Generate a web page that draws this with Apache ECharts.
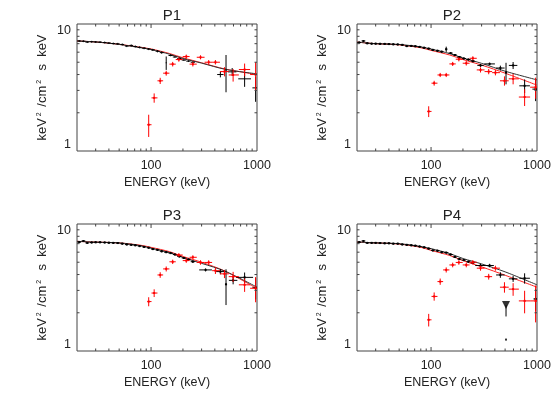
<!DOCTYPE html>
<html>
<head>
<meta charset="utf-8">
<script src="https://cdn.jsdelivr.net/npm/echarts@6/dist/echarts.min.js"></script>
<style>html,body{margin:0;padding:0;background:#fff}#chart{width:560px;height:400px}</style>
</head>
<body>
<div id="chart"></div>
<script>
var panelNames = ['P1', 'P2', 'P3', 'P4'];

// model curves (keV^2/cm^2 s keV)
var modelE = [20, 30, 50, 80, 100, 150, 200, 300, 500, 1000];
var p1ModelBlack = [7.35, 7.22, 6.9, 6.5, 6.3, 5.78, 5.35, 4.92, 4.4, 4.05];
var p1ModelRed = [7.35, 7.22, 6.92, 6.55, 6.36, 5.85, 5.42, 4.95, 4.42, 4.0];
var p2ModelBlack = [7.2, 7.0, 6.9, 6.6, 6.35, 5.85, 5.4, 4.9, 4.25, 3.63];
var p2ModelRed = [7.2, 7.0, 6.85, 6.5, 6.2, 5.7, 5.25, 4.75, 4.1, 3.3];
var p3ModelBlack = [7.3, 7.2, 7.1, 6.75, 6.45, 5.95, 5.45, 4.9, 4.25, 3.18];
var p3ModelRed = [7.3, 7.2, 7.1, 6.8, 6.55, 6.05, 5.55, 5.0, 4.25, 3.1];
var p4ModelBlack = [7.2, 7.1, 7.0, 6.65, 6.4, 5.85, 5.35, 4.85, 4.2, 3.32];
var p4ModelRed = [7.2, 7.1, 6.95, 6.55, 6.2, 5.65, 5.15, 4.6, 3.95, 3.18];

// black spectrum, low energy part (small errors)
var blackLoE = [21, 23, 25, 27.5, 30, 33, 36.5, 40, 44, 48.5, 53.5, 59, 65, 71, 78, 86, 95, 104, 115, 126];
var p1BlackLo = [7.35, 7.32, 7.2, 7.25, 7.22, 7.2, 7.15, 7.08, 7.02, 6.98, 6.9, 6.7, 6.78, 6.65, 6.55, 6.45, 6.35, 6.25, 6.1, 5.95];
var p2BlackLo = [7.15, 7.35, 7.05, 7.0, 7.0, 6.98, 6.97, 6.95, 6.92, 6.9, 6.85, 6.7, 6.72, 6.68, 6.6, 6.5, 6.4, 6.25, 6.15, 6.05];
var p3BlackLo = [7.2, 7.35, 7.1, 7.15, 7.18, 7.18, 7.15, 7.12, 7.1, 7.08, 7.0, 6.9, 6.85, 6.8, 6.7, 6.6, 6.5, 6.35, 6.25, 6.1];
var p4BlackLo = [7.2, 7.35, 7.1, 7.1, 7.1, 7.08, 7.05, 7.05, 7.0, 7.0, 6.9, 6.85, 6.8, 6.75, 6.65, 6.55, 6.4, 6.2, 6.15, 6.0];
var blackLoErr = 0.12;
var blackLoDex = 0.018;

// black spectrum, high energy part
var p1BlackHiE = [139, 153, 168, 185, 204, 225, 248, 451, 510, 583, 764, 970];
var p1BlackHiV = [4.95, 5.65, 5.5, 5.35, 5.2, 5.1, 5.0, 4.0, 4.3, 4.2, 3.7, 3.14];
var p1BlackHiErr = [0.6, 0.08, 0.08, 0.08, 0.08, 0.08, 0.08, 0.2, 1.4, 0.3, 0.5, 0.7];
var p1BlackHiDex = [0.005, 0.02, 0.02, 0.02, 0.02, 0.02, 0.02, 0.03, 0.005, 0.04, 0.06, 0.03];

var p2BlackHiE = [139, 153, 168, 185, 204, 225, 248, 293, 357, 451, 510, 595, 764, 970];
var p2BlackHiV = [6.33, 5.9, 5.7, 5.5, 5.35, 5.25, 5.1, 4.72, 4.85, 4.5, 4.15, 4.72, 3.26, 3.07];
var p2BlackHiErr = [0.3, 0.1, 0.1, 0.1, 0.1, 0.1, 0.12, 0.12, 0.12, 0.2, 0.8, 0.3, 0.4, 0.6];
var p2BlackHiDex = [0.01, 0.02, 0.02, 0.02, 0.02, 0.02, 0.02, 0.03, 0.05, 0.04, 0.01, 0.04, 0.05, 0.03];

var p3BlackHiE = [139, 153, 168, 185, 204, 225, 248, 327, 451, 510, 595, 764, 970];
var p3BlackHiV = [6.0, 5.9, 5.75, 5.55, 5.4, 5.25, 5.05, 4.35, 4.22, 3.35, 3.6, 3.8, 3.15];
var p3BlackHiErr = [0.1, 0.1, 0.1, 0.1, 0.1, 0.1, 0.1, 0.12, 0.2, 1.05, 0.25, 0.35, 0.6];
var p3BlackHiDex = [0.02, 0.02, 0.02, 0.02, 0.02, 0.02, 0.02, 0.06, 0.04, 0.01, 0.04, 0.08, 0.03];

var p4BlackHiE = [139, 153, 168, 185, 204, 225, 248, 293, 357, 451, 595, 764, 970];
var p4BlackHiV = [5.95, 5.75, 5.5, 5.3, 5.2, 5.05, 4.95, 4.71, 4.71, 3.97, 3.7, 3.74, 2.57];
var p4BlackHiErr = [0.1, 0.1, 0.1, 0.1, 0.1, 0.1, 0.1, 0.15, 0.15, 0.2, 0.2, 0.35, 0.5];
var p4BlackHiDex = [0.02, 0.02, 0.02, 0.02, 0.02, 0.02, 0.02, 0.05, 0.04, 0.04, 0.04, 0.05, 0.02];

// P4 upper limit + low point at 510 keV
var p4LimitE = 510, p4LimitTop = 2.3, p4LimitBottom = 1.87;
var p4DotE = 510, p4DotV = 1.23;

// red spectrum
var redE = [95, 107, 122, 139, 160, 183, 215, 248, 293, 350, 405, 493, 595, 764, 970];
var redEdges = [92, 101, 115, 130, 149, 171, 199, 231, 270, 320, 377, 447, 541, 674, 861, 1000];
var p1Red = [1.61, 2.62, 3.57, 4.1, 4.83, 5.25, 5.54, 4.83, 5.47, 5.0, 5.0, 4.22, 3.97, 4.38, 4.0];
var p1RedErr = [0.32, 0.22, 0.2, 0.18, 0.2, 0.2, 0.2, 0.2, 0.2, 0.2, 0.2, 0.35, 0.45, 0.5, 1.0];
var p2Red = [2.05, 3.42, 3.97, 3.97, 4.85, 5.28, 4.91, 5.37, 4.35, 4.22, 4.14, 3.57, 3.7, 2.66, 3.18];
var p2RedErr = [0.2, 0.15, 0.15, 0.15, 0.18, 0.2, 0.2, 0.2, 0.2, 0.2, 0.2, 0.3, 0.35, 0.4, 0.6];
var p3Red = [2.45, 2.86, 3.97, 4.43, 5.04, 5.7, 5.15, 5.47, 4.98, 4.98, 4.29, 4.05, 3.85, 3.32, 3.12];
var p3RedErr = [0.2, 0.2, 0.2, 0.2, 0.2, 0.2, 0.2, 0.2, 0.2, 0.2, 0.25, 0.3, 0.35, 0.4, 0.7];
var p4Red = [1.76, 2.69, 3.52, 4.35, 4.76, 4.98, 4.76, 5.0, 4.49, 3.85, 4.49, 3.18, 3.07, 2.48, 2.48];
var p4RedErr = [0.2, 0.2, 0.2, 0.2, 0.2, 0.2, 0.2, 0.2, 0.2, 0.2, 0.2, 0.3, 0.35, 0.5, 0.8];

// axis tick values
var xTickVals = [30, 40, 50, 60, 70, 80, 90, 100, 200, 300, 400, 500, 600, 700, 800, 900];
var yTickVals = [2, 3, 4, 5, 6, 7, 8, 9];

var FONT = 'Liberation Sans';
var TXT = '#222';
var TICK = '#444';

function decadeLabel(v) {
  var l = Math.log(v) / Math.LN10;
  return Math.abs(l - Math.round(l)) < 1e-6 ? String(Math.round(v)) : '';
}

function row(e, v, lo, hi, err) {
  return [e, v, lo, hi, Math.max(v - err, 0.5), v + err];
}

function makeCross(dot) {
  return function (params, api) {
    var v = api.value(1);
    var m = api.coord([api.value(0), v]);
    var l = api.coord([api.value(2), v]);
    var r = api.coord([api.value(3), v]);
    var b = api.coord([api.value(0), api.value(4)]);
    var t = api.coord([api.value(0), api.value(5)]);
    var c = api.visual('color');
    var kids = [
      { type: 'line', shape: { x1: l[0], y1: m[1], x2: r[0], y2: m[1] }, style: { stroke: c, lineWidth: 1 } },
      { type: 'line', shape: { x1: m[0], y1: t[1], x2: m[0], y2: b[1] }, style: { stroke: c, lineWidth: 1 } }
    ];
    if (dot) kids.push({ type: 'rect', shape: { x: m[0] - dot / 2, y: m[1] - dot / 2, width: dot, height: dot }, style: { fill: c } });
    return { type: 'group', children: kids };
  };
}

function xTickItem(params, api) {
  var cs = params.coordSys;
  var x = api.coord([api.value(0), 1])[0];
  var len = decadeLabel(api.value(0)) ? 4 : 2.5;
  return { type: 'group', children: [
    { type: 'line', shape: { x1: x, y1: cs.y + cs.height, x2: x, y2: cs.y + cs.height - len }, style: { stroke: TICK, lineWidth: 1 } },
    { type: 'line', shape: { x1: x, y1: cs.y, x2: x, y2: cs.y + len }, style: { stroke: TICK, lineWidth: 1 } }
  ] };
}

function yTickItem(params, api) {
  var cs = params.coordSys;
  var y = api.coord([20, api.value(1)])[1];
  return { type: 'group', children: [
    { type: 'line', shape: { x1: cs.x, y1: y, x2: cs.x + 2.5, y2: y }, style: { stroke: TICK, lineWidth: 1 } },
    { type: 'line', shape: { x1: cs.x + cs.width, y1: y, x2: cs.x + cs.width - 2.5, y2: y }, style: { stroke: TICK, lineWidth: 1 } }
  ] };
}

function buildOption() {
  var modelBlack = [p1ModelBlack, p2ModelBlack, p3ModelBlack, p4ModelBlack];
  var modelRed = [p1ModelRed, p2ModelRed, p3ModelRed, p4ModelRed];
  var blackLo = [p1BlackLo, p2BlackLo, p3BlackLo, p4BlackLo];
  var blackHiE = [p1BlackHiE, p2BlackHiE, p3BlackHiE, p4BlackHiE];
  var blackHiV = [p1BlackHiV, p2BlackHiV, p3BlackHiV, p4BlackHiV];
  var blackHiErr = [p1BlackHiErr, p2BlackHiErr, p3BlackHiErr, p4BlackHiErr];
  var blackHiDex = [p1BlackHiDex, p2BlackHiDex, p3BlackHiDex, p4BlackHiDex];
  var red = [p1Red, p2Red, p3Red, p4Red];
  var redErr = [p1RedErr, p2RedErr, p3RedErr, p4RedErr];

  var grids = [], xAxes = [], yAxes = [], titles = [], series = [];
  var lefts = [77, 357], tops = [24, 224];

  for (var i = 0; i < 4; i++) {
    var gLeft = lefts[i % 2], gTop = tops[Math.floor(i / 2)];
    grids.push({ left: gLeft, top: gTop, width: 180, height: 127, show: true, borderColor: TICK, borderWidth: 1, backgroundColor: 'transparent' });
    titles.push({ text: panelNames[i], left: gLeft + 90, top: gTop - 21, textAlign: 'center',
      textStyle: { fontFamily: FONT, fontSize: 15, fontWeight: 'normal', color: TXT } });
    xAxes.push({
      type: 'log', logBase: 10, gridIndex: i, min: 20, max: 1000,
      axisLine: { show: false }, axisTick: { show: false }, splitLine: { show: false },
      axisLabel: { formatter: decadeLabel, margin: 8, fontFamily: FONT, fontSize: 12.5, color: TXT, showMinLabel: true, showMaxLabel: true },
      name: 'ENERGY (keV)', nameLocation: 'middle', nameGap: 25,
      nameTextStyle: { fontFamily: FONT, fontSize: 12.5, color: TXT }
    });
    yAxes.push({
      type: 'log', logBase: 10, gridIndex: i, min: 1, max: 10,
      axisLine: { show: false }, axisTick: { show: false }, splitLine: { show: false },
      axisLabel: { formatter: decadeLabel, margin: 6, fontFamily: FONT, fontSize: 12.5, color: TXT,
        verticalAlignMinLabel: 'bottom', verticalAlignMaxLabel: 'top' },
      name: 'keV{s|2} /cm{s|2}  s  keV', nameLocation: 'middle', nameGap: 28, nameRotate: 90,
      nameTextStyle: { fontFamily: FONT, fontSize: 13, color: TXT,
        rich: { s: { fontFamily: FONT, fontSize: 7, color: TXT, verticalAlign: 'top', padding: [0, 2, 6, 2] } } }
    });

    var mb = [], mr = [], k, e, f;
    for (k = 0; k < modelE.length; k++) {
      mb.push([modelE[k], modelBlack[i][k]]);
      mr.push([modelE[k], modelRed[i][k]]);
    }
    series.push({ type: 'line', xAxisIndex: i, yAxisIndex: i, data: mr, showSymbol: false, smooth: 0.3,
      lineStyle: { color: '#ff2020', width: 1 }, z: 2, silent: true });
    series.push({ type: 'line', xAxisIndex: i, yAxisIndex: i, data: mb, showSymbol: false, smooth: 0.3,
      lineStyle: { color: '#333', width: 1 }, z: 3, silent: true });

    var bd = [];
    for (k = 0; k < blackLoE.length; k++) {
      e = blackLoE[k]; f = Math.pow(10, blackLoDex);
      bd.push(row(e, blackLo[i][k], e / f, e * f, blackLoErr));
    }
    for (k = 0; k < blackHiE[i].length; k++) {
      e = blackHiE[i][k]; f = Math.pow(10, blackHiDex[i][k]);
      bd.push(row(e, blackHiV[i][k], e / f, Math.min(e * f, 1000), blackHiErr[i][k]));
    }
    series.push({ type: 'custom', xAxisIndex: i, yAxisIndex: i, data: bd, renderItem: makeCross(i === 0 ? 0 : 2),
      itemStyle: { color: '#000' }, z: 4, silent: true });

    var rd = [];
    for (k = 0; k < redE.length; k++) {
      rd.push(row(redE[k], red[i][k], redEdges[k], redEdges[k + 1], redErr[i][k]));
    }
    series.push({ type: 'custom', xAxisIndex: i, yAxisIndex: i, data: rd, renderItem: makeCross(2),
      itemStyle: { color: '#ff0000' }, z: 5, silent: true });

    series.push({ type: 'custom', xAxisIndex: i, yAxisIndex: i, data: xTickVals.map(function (v) { return [v, 1]; }),
      renderItem: xTickItem, z: 6, silent: true });
    series.push({ type: 'custom', xAxisIndex: i, yAxisIndex: i, data: yTickVals.map(function (v) { return [20, v]; }),
      renderItem: yTickItem, z: 6, silent: true });
  }

  // P4 upper limit marker and low point
  series.push({ type: 'custom', xAxisIndex: 3, yAxisIndex: 3,
    data: [[p4LimitE, p4LimitTop, p4LimitE, p4LimitE, p4LimitBottom, p4LimitTop]],
    renderItem: makeCross(0), itemStyle: { color: '#000' }, z: 4, silent: true });
  series.push({ type: 'scatter', xAxisIndex: 3, yAxisIndex: 3, data: [[p4LimitE, p4LimitTop]],
    symbol: 'triangle', symbolRotate: 180, symbolSize: [8, 8], itemStyle: { color: '#000' }, z: 4, silent: true });
  series.push({ type: 'scatter', xAxisIndex: 3, yAxisIndex: 3, data: [[p4DotE, p4DotV]],
    symbol: 'rect', symbolSize: 2, itemStyle: { color: '#000' }, z: 4, silent: true });

  return {
    animation: false,
    backgroundColor: '#fff',
    title: titles,
    grid: grids,
    xAxis: xAxes,
    yAxis: yAxes,
    series: series
  };
}

var chart = echarts.init(document.getElementById('chart'), null, { renderer: 'canvas' });
chart.setOption(buildOption());
</script>
</body>
</html>
